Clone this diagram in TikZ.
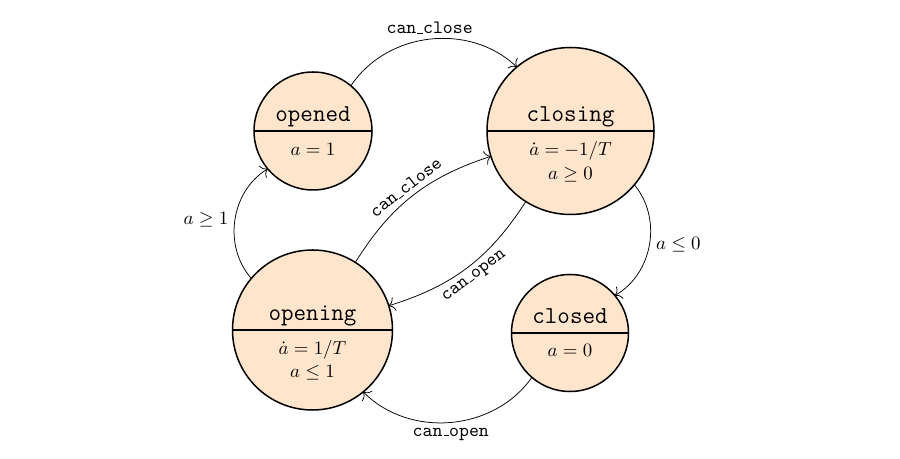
\documentclass[tikz,border=0pt]{standalone}
\usetikzlibrary{arrows.meta}
\newcommand\usc{\kern.06em\vbox{\hrule width.3em}}
\begin{document}
\begin{tikzpicture}[x=0.53pt,y=0.53pt,
  st/.style={circle,draw,thick,fill=orange!20,inner sep=0pt,outer sep=0pt},
  nm/.style={anchor=base,font=\fontsize{12.9}{15}\selectfont\ttfamily,inner sep=0pt},
  eq/.style={anchor=base,inner sep=0pt},
  tr/.style={-{To[length=3.2pt,width=7.5pt]},thin},
  lb/.style={font=\ttfamily,inner sep=2.6pt}]
\useasboundingbox (0,0) rectangle (900,459);
% states
\node[st,minimum size=118*0.53pt] (opened)  at (313,328)   {};
\node[st,minimum size=167*0.53pt] (closing) at (570.5,328) {};
\node[st,minimum size=160*0.53pt] (opening) at (312.5,129) {};
\node[st,minimum size=117*0.53pt] (closed)  at (570,126)   {};
\draw[thick] (opened.west) -- (opened.east);
\draw[thick] (closing.west) -- (closing.east);
\draw[thick] (opening.west) -- (opening.east);
\draw[thick] (closed.west) -- (closed.east);
% texts
\node[nm] (openedN)  at (313,337)   {opened};
\node[eq] (openedA)  at (313,303)   {$a=1$};
\node[nm] (closingN) at (570.5,337) {closing};
\node[eq] (closingA) at (570.5,303) {$\dot a=-1/T$};
\node[eq] (closingB) at (570.5,279) {$a\geq 0$};
\node[nm] (openingN) at (312.5,138) {opening};
\node[eq] (openingA) at (312.5,104) {$\dot a=1/T$};
\node[eq] (openingB) at (312.5,81.5) {$a\leq 1$};
\node[nm] (closedN)  at (570,135)   {closed};
\node[eq] (closedA)  at (570,102)   {$a=0$};
% transitions
\draw[tr] (opened)  to[bend left=50] node[above,lb] (l1) {can\usc close} (closing);
\draw[tr] (opening) to[bend left=50] node[left] (l2) {$a\geq 1$} (opened);
\draw[tr] (opening) to[bend left=20] node[sloped,above,lb] (l3) {can\usc close} (closing);
\draw[tr] (closing) to[bend left=20] node[sloped,below,lb] (l4) {can\usc open} (opening);
\draw[tr] (closing) to[bend left=50] node[right] (l5) {$a\leq 0$} (closed);
\draw[tr] (closed)  to[bend left=50] node[below,lb] (l6) {can\usc open} (opening);
\end{tikzpicture}
\end{document}
